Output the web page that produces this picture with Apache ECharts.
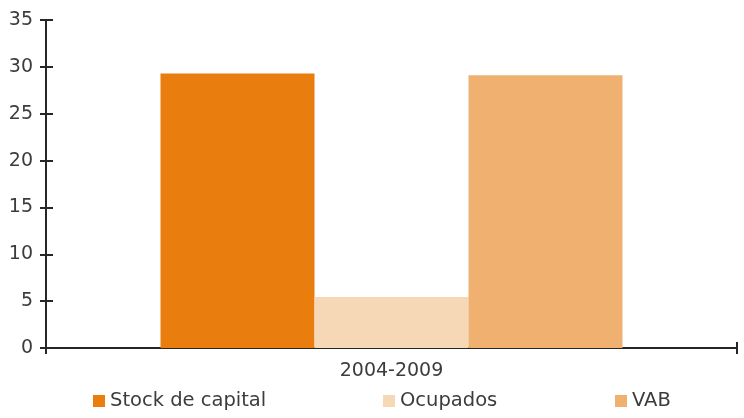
<!DOCTYPE html>
<html>
<head>
<meta charset="utf-8">
<script src="https://cdn.jsdelivr.net/npm/echarts@6/dist/echarts.min.js"></script>
<style>
  html, body { margin: 0; padding: 0; background: #fff; }
  #main { width: 744px; height: 418px; }
</style>
</head>
<body>
<div id="main"></div>
<script>
var categories = ['2004-2009'];
var seriesNames = ['Stock de capital', 'Ocupados', 'VAB'];
var stockCapital = [29.3];
var ocupados = [5.45];
var vab = [29.1];
var yTicks = [0, 5, 10, 15, 20, 25, 30, 35];

var chart = echarts.init(document.getElementById('main'));

// style
var style = {
    font: 'DejaVu Sans',
    textColor: '#3c3c3c',
    lineColor: '#262626',
    colors: ['#E97D0E', '#F6D8B6', '#F0B070']
};

var legendLeft = [93, 383, 615];
var seriesValues = [stockCapital, ocupados, vab];

var legends = seriesNames.map(function (name, i) {
    return {
        data: [name],
        left: legendLeft[i],
        top: 391,
        icon: 'rect',
        itemWidth: 12,
        itemHeight: 12,
        itemGap: 0,
        padding: 0,
        selectedMode: false,
        textStyle: {
            fontFamily: style.font,
            fontSize: 19.5,
            color: style.textColor
        }
    };
});

var axisLabelStyle = {
    fontFamily: style.font,
    fontSize: 19,
    color: style.textColor
};

var option = {
    animation: false,
    backgroundColor: '#fff',
    legend: legends,
    grid: {
        left: 46,
        right: 7,
        top: 20,
        bottom: 70
    },
    xAxis: [{
        type: 'category',
        data: categories,
        axisLine: { lineStyle: { color: style.lineColor, width: 2 } },
        axisTick: { show: true, length: 6, lineStyle: { color: style.lineColor, width: 2 } },
        axisLabel: Object.assign({ margin: 14 }, axisLabelStyle)
    }, {
        type: 'category',
        data: categories,
        position: 'bottom',
        axisLine: { show: false },
        axisTick: { show: true, inside: true, length: 6, lineStyle: { color: style.lineColor, width: 2 } },
        axisLabel: { show: false }
    }],
    yAxis: [{
        type: 'value',
        min: yTicks[0],
        max: yTicks[yTicks.length - 1],
        interval: 5,
        splitLine: { show: false },
        axisLine: { show: true, lineStyle: { color: style.lineColor, width: 2 } },
        axisTick: { show: true, length: 6, lineStyle: { color: style.lineColor, width: 2 } },
        axisLabel: Object.assign({ margin: 13 }, axisLabelStyle)
    }, {
        type: 'value',
        position: 'left',
        min: yTicks[0],
        max: yTicks[yTicks.length - 1],
        interval: 5,
        splitLine: { show: false },
        axisLine: { show: false },
        axisTick: { show: true, inside: true, length: 7, lineStyle: { color: style.lineColor, width: 2 } },
        axisLabel: { show: false }
    }],
    series: seriesNames.map(function (name, i) {
        return {
            name: name,
            type: 'bar',
            data: seriesValues[i],
            barWidth: 154,
            barGap: '0%',
            itemStyle: { color: style.colors[i] }
        };
    })
};
option.color = style.colors;
chart.setOption(option);
</script>
</body>
</html>
